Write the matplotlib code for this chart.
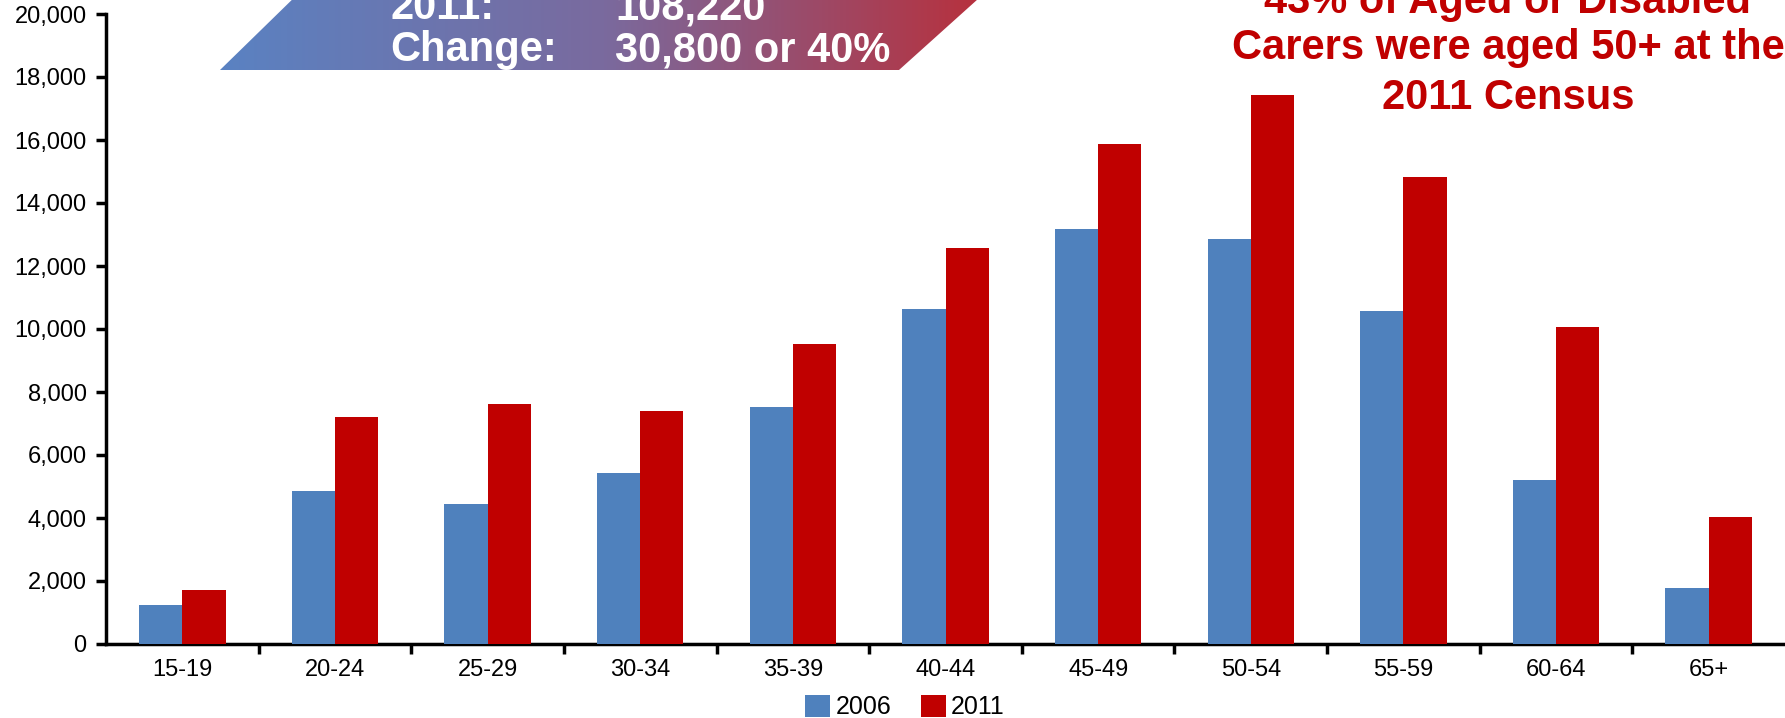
import numpy as np
import matplotlib
matplotlib.use("Agg")
import matplotlib.pyplot as plt
from matplotlib.patches import Polygon
from matplotlib.ticker import FuncFormatter, FixedLocator
from matplotlib.colors import LinearSegmentedColormap

plt.rcParams['font.family'] = ['Liberation Sans Narrow', 'Liberation Sans', 'DejaVu Sans']

categories = ["15-19", "20-24", "25-29", "30-34", "35-39", "40-44",
              "45-49", "50-54", "55-59", "60-64", "65+"]
values_2006 = [1250, 4870, 4440, 5415, 7510, 10650, 13180, 12850, 10580, 5200, 1770]
values_2011 = [1730, 7220, 7620, 7400, 9530, 12560, 15880, 17440, 14840, 10070, 4040]
series_labels = ["2006", "2011"]
banner_lines = [("2011:", "108,220"), ("Change:", "30,800 or 40%")]
note_lines = ["43% of Aged or Disabled", "Carers were aged 50+ at the", "2011 Census"]

W, H = 1785, 718
fig = plt.figure(figsize=(W / 100, H / 100), dpi=100)
ax = fig.add_axes([106 / W, 1 - 644 / H, 1 - 106 / W, (644 - 14) / H])

x = np.arange(len(categories))
bw = 0.283
b1 = ax.bar(x - bw / 2, values_2006, bw, color="#4f81bd", label=series_labels[0], zorder=3)
b2 = ax.bar(x + bw / 2, values_2011, bw, color="#c00000", label=series_labels[1], zorder=3)

ax.set_xlim(-0.5, len(categories) - 0.5)
ax.set_ylim(0, 20000)
ax.set_yticks(np.arange(0, 20001, 2000))
ax.yaxis.set_major_formatter(FuncFormatter(lambda v, p: f"{int(v):,}"))
ax.set_xticks(x)
ax.set_xticklabels(categories)
ax.xaxis.set_minor_locator(FixedLocator(np.arange(0.5, len(categories) - 0.5, 1)))
ax.tick_params(axis='x', which='major', length=0, labelsize=17, pad=11)
ax.tick_params(axis='x', which='minor', length=7, width=2.5, direction='out')
ax.tick_params(axis='y', which='major', length=7, width=2.5, direction='out', labelsize=17, pad=7)
for s in ["top", "right"]:
    ax.spines[s].set_visible(False)
for s in ["left", "bottom"]:
    ax.spines[s].set_linewidth(2.5)
    ax.spines[s].set_color("black")
ax.axhline(0, color="#a0a0a0", lw=1.5, zorder=2)

# gradient banner (parallelogram)
bax = fig.add_axes([0, 0, 1, 1], zorder=5)
bax.axis("off")
verts = [(220, 70), (302, -10), (988, -10), (899, 70)]
poly = Polygon(verts, closed=True, facecolor="none", edgecolor="none")
bax.add_patch(poly)
grad = np.linspace(0, 1, 256).reshape(1, -1)
cmap = LinearSegmentedColormap.from_list("bg", ["#5a82c2", "#7a6a9e", "#b8303c"])
im = bax.imshow(grad, cmap=cmap, extent=(220, 988, 70, -10), aspect="auto", zorder=1)
im.set_clip_path(poly)
bax.set_xlim(0, W)
bax.set_ylim(H, 0)

ys = [8, 50]
for (lab, val), yy in zip(banner_lines, ys):
    bax.text(390, yy, lab, color="white", fontsize=30, fontweight="bold", va="center", ha="left", zorder=3)
    bax.text(615, yy, val, color="white", fontsize=30, fontweight="bold", va="center", ha="left", zorder=3)

for line, yy in zip(note_lines, [2, 48, 98]):
    bax.text(1508, yy, line, color="#c00000", fontsize=30, fontweight="bold", va="center", ha="center", zorder=3)

fig.legend(handles=[b1, b2], labels=series_labels, loc="center", ncol=2,
           bbox_to_anchor=(905 / W, 1 - 707 / H), frameon=False, fontsize=18,
           handlelength=1.0, handleheight=1.0, handletextpad=0.2, columnspacing=1.2)

fig.savefig("out.png", dpi=100)
